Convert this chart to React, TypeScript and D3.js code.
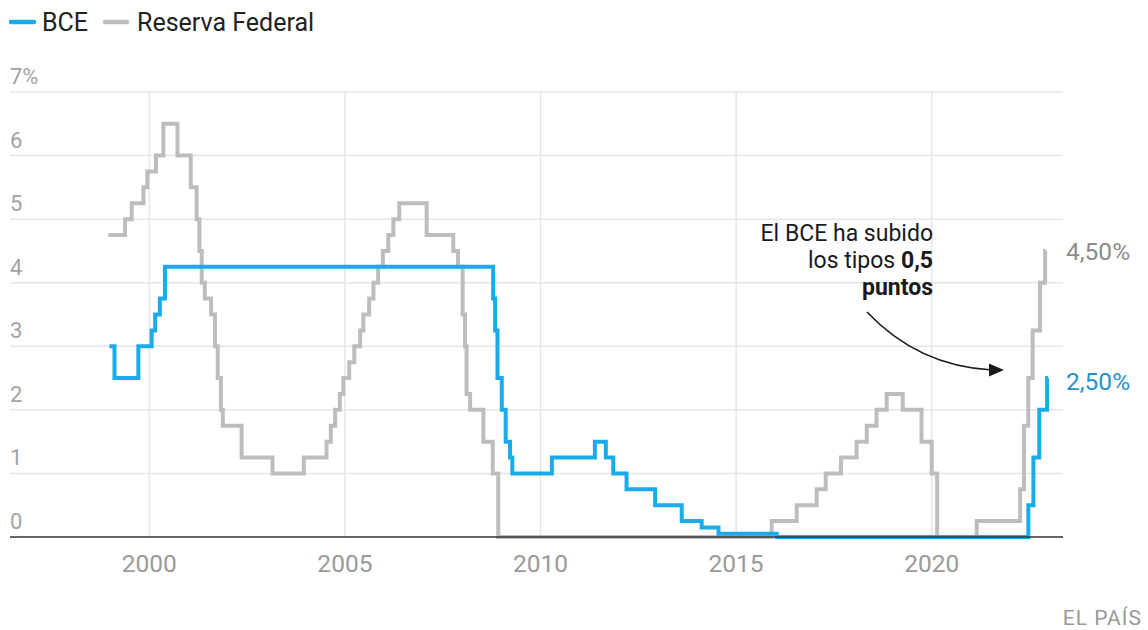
import React from "react";
import * as d3 from "d3";

const bceDates = [1998.98, 1999.11, 1999.72, 2000.06, 2000.15, 2000.27, 2000.40, 2008.79, 2008.84, 2008.90, 2009.01, 2009.11, 2009.22, 2009.28, 2010.29, 2011.39, 2011.67, 2011.86, 2012.20, 2012.93, 2013.61, 2014.12, 2014.55, 2016.04, 2022.47, 2022.60, 2022.75, 2022.95, 2022.97];
const bceRates = [3.0, 2.5, 3.0, 3.25, 3.5, 3.75, 4.25, 3.75, 3.25, 2.5, 2.0, 1.5, 1.25, 1.0, 1.25, 1.5, 1.25, 1.0, 0.75, 0.5, 0.25, 0.15, 0.05, 0, 0.5, 1.25, 2.0, 2.5, 2.5];

const fedDates = [1998.95, 1999.38, 1999.55, 1999.85, 1999.95, 2000.17, 2000.36, 2000.72, 2001.06, 2001.21, 2001.28, 2001.34, 2001.42, 2001.58, 2001.68, 2001.75, 2001.83, 2001.88, 2002.36, 2003.15, 2003.95, 2004.53, 2004.64, 2004.75, 2004.87, 2004.96, 2005.11, 2005.24, 2005.39, 2005.47, 2005.62, 2005.73, 2005.85, 2005.97, 2006.11, 2006.24, 2006.39, 2007.09, 2007.77, 2007.89, 2008.01, 2008.07, 2008.11, 2008.20, 2008.54, 2008.78, 2008.92, 2015.91, 2016.55, 2017.06, 2017.29, 2017.68, 2018.08, 2018.34, 2018.59, 2018.85, 2019.26, 2019.74, 2020.00, 2020.14, 2021.15, 2022.26, 2022.36, 2022.47, 2022.58, 2022.77, 2022.90, 2022.92];
const fedRates = [4.75, 5.0, 5.25, 5.5, 5.75, 6.0, 6.5, 6.0, 5.5, 5.0, 4.5, 4.0, 3.75, 3.5, 3.0, 2.5, 2.0, 1.75, 1.25, 1.0, 1.25, 1.5, 1.75, 2.0, 2.25, 2.5, 2.75, 3.0, 3.25, 3.5, 3.75, 4.0, 4.25, 4.5, 4.75, 5.0, 5.25, 4.75, 4.5, 4.25, 3.5, 3.0, 2.25, 2.0, 1.5, 1.0, 0, 0.25, 0.5, 0.75, 1.0, 1.25, 1.5, 1.75, 2.0, 2.25, 2.0, 1.5, 1.0, 0, 0.25, 0.75, 1.75, 2.5, 3.25, 4.0, 4.5, 4.5];

const yTicks = [0, 1, 2, 3, 4, 5, 6, 7];
const yTickLabels = ["0", "1", "2", "3", "4", "5", "6", "7%"];
const xTicks = [2000, 2005, 2010, 2015, 2020];
const seriesNames = ["BCE", "Reserva Federal"];
const endLabels = ["2,50%", "4,50%"];
const annotationLines = ["El BCE ha subido", "los tipos ", "0,5", "puntos"];
const source = "EL PAÍS";

const BLUE = "#1aabeb";
const GRAY = "#bcbdbf";
const FONT = "Roboto, 'Noto Sans', sans-serif";

export default function App() {
  const x = d3.scaleLinear().domain([2000, 2020]).range([149.3, 931.7]);
  const y = d3.scaleLinear().domain([0, 7]).range([537, 92]);
  const left = 10;
  const right = 1063;

  const line = d3
    .line<[number, number]>()
    .x((d) => x(d[0]))
    .y((d) => y(d[1]))
    .curve(d3.curveStepAfter);

  const bce: [number, number][] = bceDates.map((d, i) => [d, bceRates[i]]);
  const fed: [number, number][] = fedDates.map((d, i) => [d, fedRates[i]]);
  const bceLast = bce[bce.length - 1];
  const fedLast = fed[fed.length - 1];

  return (
    <svg
      width={1148}
      height={630}
      style={{ position: "absolute", left: 0, top: 0, background: "#fff" }}
      fontFamily={FONT}
    >
      {/* legend */}
      <line x1={11} x2={34} y1={22} y2={22} stroke={BLUE} strokeWidth={4.5} strokeLinecap="round" />
      <text x={42} y={31} fontSize={25} fill="#222">{seriesNames[0]}</text>
      <line x1={105} x2={127} y1={22} y2={22} stroke={GRAY} strokeWidth={4.5} strokeLinecap="round" />
      <text x={137} y={31} fontSize={25} fill="#222">{seriesNames[1]}</text>

      {/* grid */}
      {yTicks.filter((t) => t > 0).map((t) => (
        <line key={"gy" + t} x1={left} x2={right} y1={y(t)} y2={y(t)} stroke="#e6e6e6" strokeWidth={1.5} />
      ))}
      {xTicks.map((t) => (
        <line key={"gx" + t} x1={x(t)} x2={x(t)} y1={y(7)} y2={y(0)} stroke="#e6e6e6" strokeWidth={1.5} />
      ))}
      {yTicks.map((t, i) => (
        <text key={"ly" + t} x={left} y={y(t) - 8} fontSize={22} fill="#a3a3a3">{yTickLabels[i]}</text>
      ))}
      {xTicks.map((t) => (
        <text key={"lx" + t} x={x(t)} y={572} fontSize={24.5} fill="#9a9a9a" textAnchor="middle">{t}</text>
      ))}

      {/* series */}
      <path d={line(fed) || ""} fill="none" stroke={GRAY} strokeWidth={4} strokeLinejoin="miter" />
      <path d={line(bce) || ""} fill="none" stroke={BLUE} strokeWidth={4} strokeLinejoin="miter" />

      {/* baseline */}
      <line x1={left} x2={right} y1={y(0)} y2={y(0)} stroke="#333" strokeWidth={1.3} />

      {/* end labels */}
      <text x={1066} y={y(fedLast[1]) + 9} fontSize={24.5} fill="#8c8c8c">{endLabels[1]}</text>
      <text x={1066} y={y(bceLast[1]) + 12} fontSize={24.5} fill="#2791cc">{endLabels[0]}</text>

      {/* annotation */}
      <text x={933} y={241} fontSize={23} fill="#1a1a1a" textAnchor="end">{annotationLines[0]}</text>
      <text x={933} y={268} fontSize={23} fill="#1a1a1a" textAnchor="end">
        {annotationLines[1]}
        <tspan fontWeight="bold">{annotationLines[2]}</tspan>
      </text>
      <text x={933} y={295} fontSize={23} fill="#1a1a1a" textAnchor="end" fontWeight="bold">{annotationLines[3]}</text>
      <path d="M867,312 Q918,366 992,370" fill="none" stroke="#1a1a1a" strokeWidth={1.6} />
      <polygon points="1004,370 989,363.5 989,376.5" fill="#1a1a1a" />

      {/* source */}
      <text x={1142} y={625} fontSize={21} fill="#9a9a9a" textAnchor="end" letterSpacing={1}>{source}</text>
    </svg>
  );
}
